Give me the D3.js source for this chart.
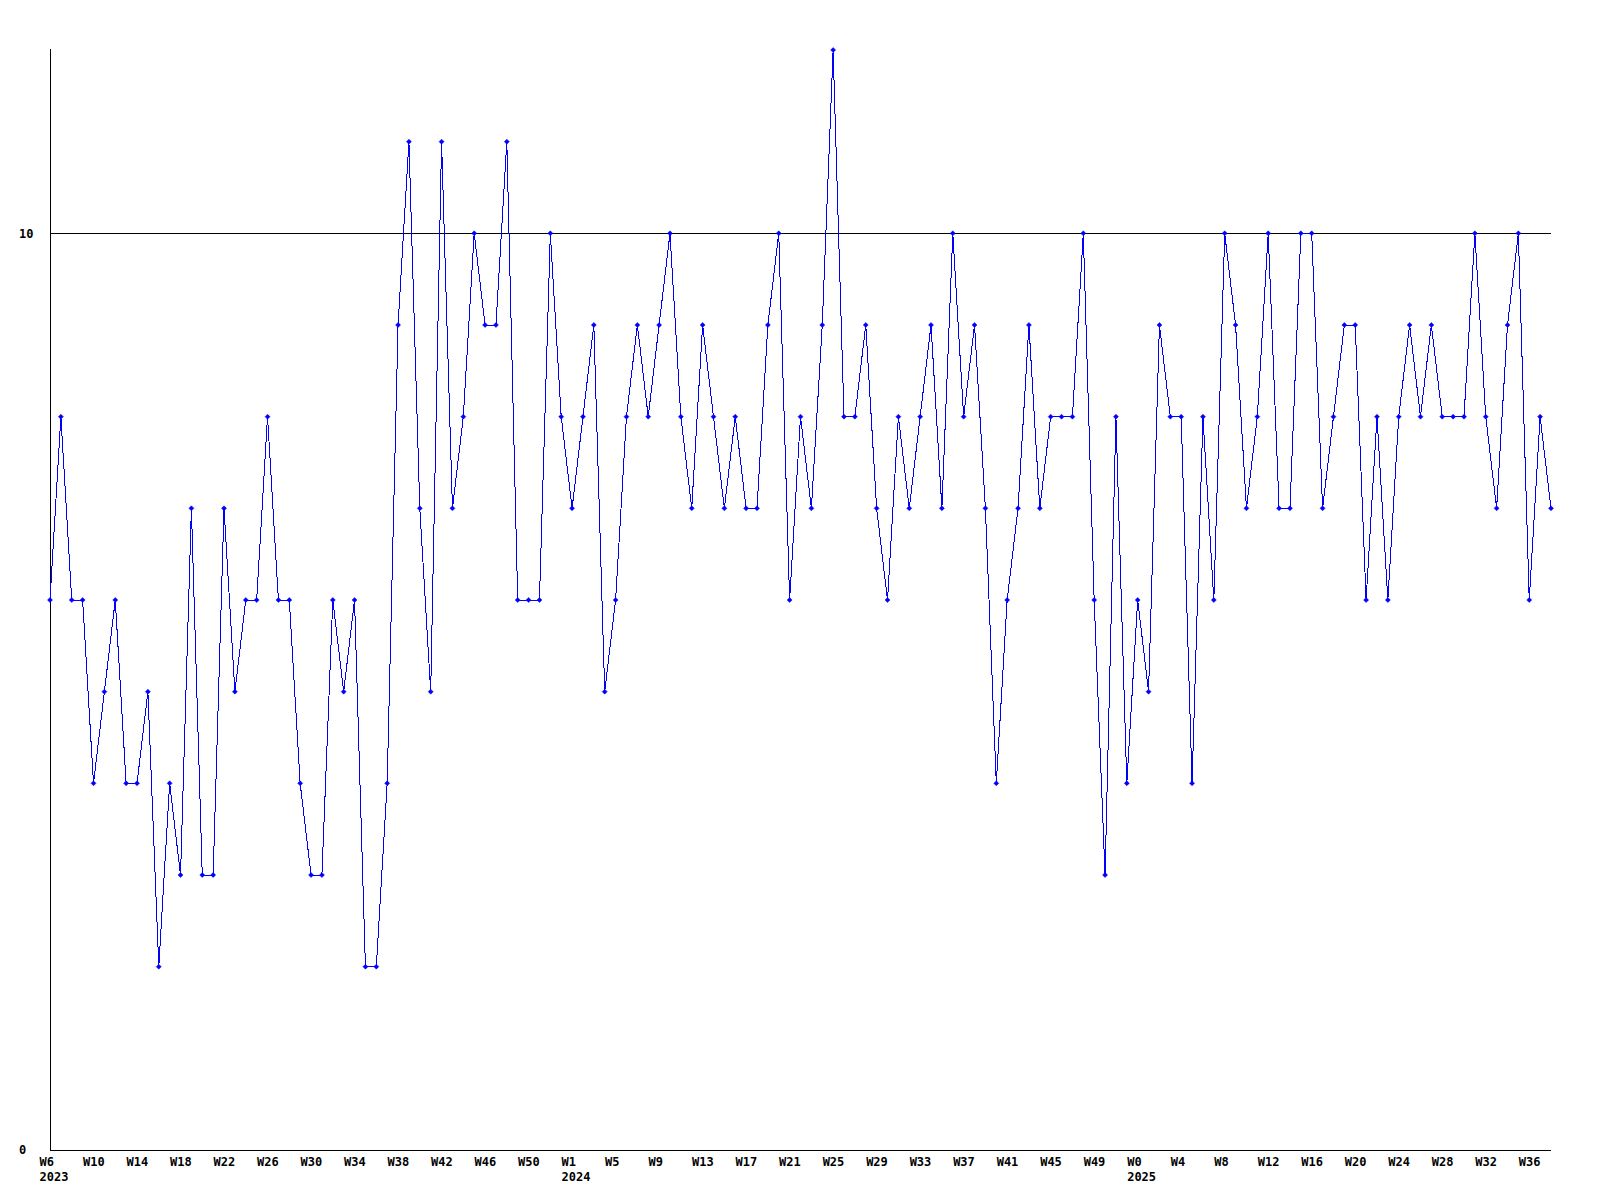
<!DOCTYPE html>
<html>
<head>
<meta charset="utf-8">
<script src="https://cdn.jsdelivr.net/npm/d3@7"></script>
<style>
  html, body { margin: 0; padding: 0; background: #fff; }
  text { font-family: "DejaVu Sans Mono", monospace; font-size: 12px; font-weight: bold; fill: #000; }
</style>
</head>
<body>
<div id="chart"></div>
<script>
// weekly values, W6 2023 .. W36 2025 (139 weeks)
var values = [
  6, 8, 6, 6, 4, 5, 6, 4, 4, 5, 2, 4, 3, 7, 3, 3, 7, 5, 6, 6,
  8, 6, 6, 4, 3, 3, 6, 5, 6, 2, 2, 4, 9, 11, 7, 5, 11, 7, 8, 10,
  9, 9, 11, 6, 6, 6, 10, 8, 7, 8, 9, 5, 6, 8, 9, 8, 9, 10, 8, 7,
  9, 8, 7, 8, 7, 7, 9, 10, 6, 8, 7, 9, 12, 8, 8, 9, 7, 6, 8, 7,
  8, 9, 7, 10, 8, 9, 7, 4, 6, 7, 9, 7, 8, 8, 8, 10, 6, 3, 8, 4,
  6, 5, 9, 8, 8, 4, 8, 6, 10, 9, 7, 8, 10, 7, 7, 10, 10, 7, 8, 9,
  9, 6, 8, 6, 8, 9, 8, 9, 8, 8, 8, 10, 8, 7, 9, 10, 6, 8, 7
];

// x tick labels, one every 4th week
var tickLabels = [
  ["W6", "2023"], ["W10"], ["W14"], ["W18"], ["W22"], ["W26"], ["W30"], ["W34"],
  ["W38"], ["W42"], ["W46"], ["W50"],
  ["W1", "2024"], ["W5"], ["W9"], ["W13"], ["W17"], ["W21"], ["W25"], ["W29"],
  ["W33"], ["W37"], ["W41"], ["W45"], ["W49"],
  ["W0", "2025"], ["W4"], ["W8"], ["W12"], ["W16"], ["W20"], ["W24"], ["W28"],
  ["W32"], ["W36"]
];
var tickEvery = 4;

var yTicks = [0, 10];
var yMax = 12;

var width = 1600,
	height = 1200,
	plotLeft = 50,
	plotRight = 1551,
	plotTop = 50,
	plotBottom = 1150;

var svg = d3.select("#chart").append("svg")
	.attr("width", width)
	.attr("height", height);

var x = d3.scaleLinear()
	.domain([0, values.length - 1])
	.range([plotLeft, plotRight]);

var y = d3.scaleLinear()
	.domain([0, yMax])
	.range([plotBottom, plotTop]);

// horizontal grid line(s) above zero
svg.selectAll(".grid")
	.data(yTicks.filter(function(d){ return d > 0; }))
	.enter().append("line")
	.attr("class", "grid")
	.attr("x1", plotLeft)
	.attr("x2", plotRight)
	.attr("y1", function(d){ return Math.round(y(d)) + 0.5; })
	.attr("y2", function(d){ return Math.round(y(d)) + 0.5; })
	.attr("stroke", "#000")
	.attr("stroke-width", 1);

// axes
svg.append("line")
	.attr("x1", plotLeft + 0.5).attr("x2", plotLeft + 0.5)
	.attr("y1", plotTop - 1).attr("y2", plotBottom + 0.5)
	.attr("stroke", "#000");
svg.append("line")
	.attr("x1", plotLeft).attr("x2", plotRight)
	.attr("y1", plotBottom + 0.5).attr("y2", plotBottom + 0.5)
	.attr("stroke", "#000");

// y labels (left aligned)
svg.selectAll(".ylab")
	.data(yTicks)
	.enter().append("text")
	.attr("class", "ylab")
	.attr("x", 19)
	.attr("y", function(d){ return y(d); })
	.attr("dy", "0.35em")
	.text(function(d){ return d; });

// x labels: lines left aligned, starting a little left of the tick
svg.selectAll(".xlab")
	.data(tickLabels)
	.enter().append("text")
	.attr("class", "xlab")
	.attr("y", plotBottom + 16)
	.each(function(d, i){
		var t = d3.select(this);
		var x0 = x(i * tickEvery) - 10.5;
		d.forEach(function(line, j){
			t.append("tspan")
				.attr("x", x0)
				.attr("dy", j === 0 ? 0 : 15)
				.text(line);
		});
	});

// line
var line = d3.line()
	.x(function(d, i){ return x(i); })
	.y(function(d){ return y(d); });

svg.append("path")
	.datum(values)
	.attr("d", line)
	.attr("fill", "none")
	.attr("stroke", "#0000ff")
	.attr("stroke-width", 1)
	.attr("shape-rendering", "crispEdges");

// markers
svg.selectAll(".mark")
	.data(values)
	.enter().append("path")
	.attr("class", "mark")
	.attr("d", function(d, i){
		var cx = x(i), cy = y(d), r = 2.5;
		return "M" + (cx - r) + "," + cy + "L" + cx + "," + (cy - r) +
			"L" + (cx + r) + "," + cy + "L" + cx + "," + (cy + r) + "Z";
	})
	.attr("fill", "#0000ff")
	.attr("stroke", "#0000ff")
	.attr("stroke-width", 0.5);
</script>
</body>
</html>
